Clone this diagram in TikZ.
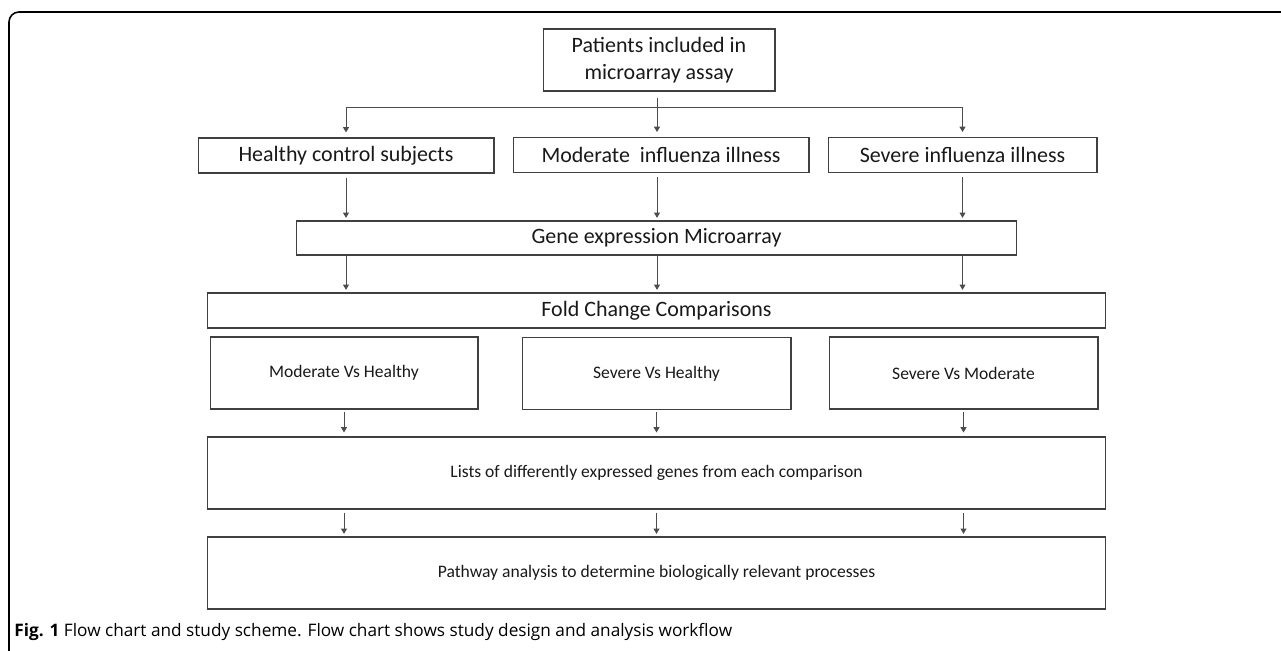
\documentclass[tikz,border=0pt]{standalone}
\usepackage{fontspec}
\setmainfont{Carlito}
\newfontfamily\capfont{Open Sans}
\usepackage{tikz}
\usetikzlibrary{arrows.meta,positioning,calc}

\begin{document}
\begin{tikzpicture}[
  x=0.02cm, y=-0.02cm,
  box/.style={draw=black!75, line width=0.6pt, inner sep=0pt, align=center, text=black!90},
  big/.style={font=\fontsize{12.5}{15}\selectfont},
  small/.style={font=\fontsize{10}{12}\selectfont},
  line/.style={draw=black!70, line width=0.5pt},
  arrow/.style={line, -{Triangle[length=3pt, width=3.4pt]}, shorten >=1.5pt}
]
\useasboundingbox (0,0) rectangle (1281,651);
\clip (0,0) rectangle (1281,651);
% outer frame
\draw[line width=0.9pt, rounded corners=0.2cm] (9,12) rectangle (1320,690);

\node[box, big, minimum width=4.64cm, minimum height=1.24cm] (top) at (659,60) {Patients included in\\microarray assay};
\node[box, big, minimum width=5.92cm, minimum height=0.70cm] (healthy) at (346,155.5) {Healthy control subjects};
\node[box, big, minimum width=5.92cm, minimum height=0.70cm] (moderate) at (661,155) {Moderate\ \ influenza illness};
\node[box, big, minimum width=5.38cm, minimum height=0.70cm] (severe) at (962.5,155) {Severe influenza illness};
\node[box, big, minimum width=14.42cm, minimum height=0.68cm] (gene) at (656.5,238) {Gene expression Microarray};
\node[box, big, minimum width=17.98cm, minimum height=0.70cm] (fold) at (656.5,310.5) {Fold Change Comparisons};
\node[box, small, minimum width=5.36cm, minimum height=1.44cm] (mvh) at (344,373) {Moderate Vs Healthy};
\node[box, small, minimum width=5.38cm, minimum height=1.44cm] (svh) at (656.5,373.5) {Severe Vs Healthy};
\node[box, small, minimum width=5.38cm, minimum height=1.44cm] (svm) at (963.5,373) {Severe Vs Moderate};
\node[box, small, minimum width=17.98cm, minimum height=1.44cm] (lists) at (656.5,473) {Lists of differently expressed genes from each comparison};
\node[box, small, minimum width=17.98cm, minimum height=1.44cm] (path) at (656.5,573) {Pathway analysis to determine biologically relevant processes};

% split below the first box
\coordinate (split) at (657,107);
\draw[line, shorten <=0.12cm] (top.south -| split) -- (split);
\draw[line] (healthy.north |- split) -- (severe.north |- split);
\draw[arrow, shorten >=0.1cm] (healthy.north |- split) -- (healthy.north);
\draw[arrow, shorten >=0.1cm] (split) -- (split |- moderate.north);
\draw[arrow, shorten >=0.1cm] (severe.north |- split) -- (severe.north);

\draw[arrow, shorten <=0.08cm] (healthy) -- (healthy |- gene.north);
\draw[arrow, shorten <=0.08cm] (split |- moderate.south) -- (split |- gene.north);
\draw[arrow, shorten <=0.08cm] (severe) -- (severe |- gene.north);

\draw[arrow] (healthy |- gene.south) -- (healthy |- fold.north);
\draw[arrow] (split |- gene.south) -- (split |- fold.north);
\draw[arrow] (severe |- gene.south) -- (severe |- fold.north);

\draw[arrow, shorten <=0.04cm, shorten >=0.08cm] (mvh) -- (mvh |- lists.north);
\draw[arrow, shorten <=0.04cm, shorten >=0.08cm] (svh) -- (svh |- lists.north);
\draw[arrow, shorten <=0.04cm, shorten >=0.08cm] (svm) -- (svm |- lists.north);

\draw[arrow, shorten <=0.06cm] (mvh |- lists.south) -- (mvh |- path.north);
\draw[arrow, shorten <=0.06cm] (svh |- lists.south) -- (svh |- path.north);
\draw[arrow, shorten <=0.06cm] (svm |- lists.south) -- (svm |- path.north);

\node[anchor=base west, inner sep=0pt, font=\capfont\fontsize{9.8}{12}\selectfont] (caption) at (14,636) {\textbf{Fig. 1} Flow chart and study scheme. Flow chart shows study design and analysis workflow};
\end{tikzpicture}
\end{document}
